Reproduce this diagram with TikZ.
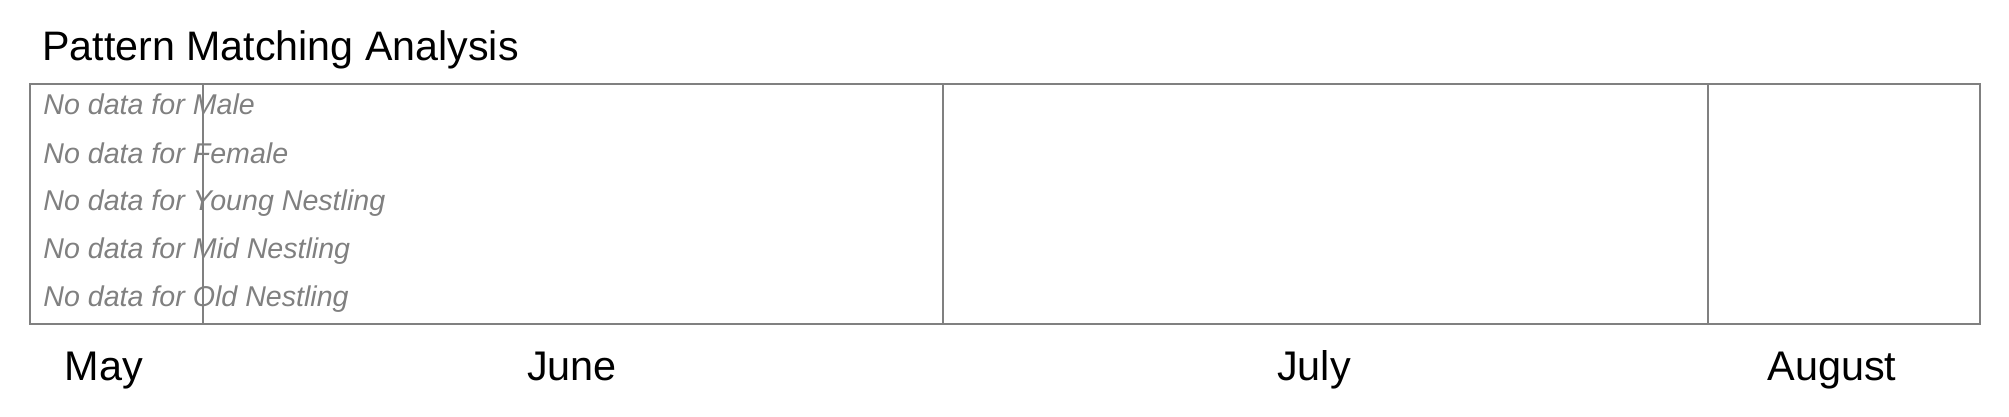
\documentclass[tikz,border=0pt]{standalone}
\usepackage{fontspec}
\setmainfont{Liberation Sans}
\definecolor{gridgray}{HTML}{808080}

\begin{document}
\begin{tikzpicture}[x=0.5pt,y=-0.5pt,
    nodata/.style={anchor=base west,inner sep=0pt,text=gridgray,
	font=\fontsize{14.3}{16}\selectfont\itshape},
    monthlabel/.style={anchor=base,inner sep=0pt,
	font=\fontsize{20.7}{24}\selectfont}]
    \useasboundingbox (0,0) rectangle (2009,417);
    \path (42,61) node [anchor=base west,inner sep=0pt,
	font=\fontsize{20.6}{24}\selectfont] (title) {Pattern Matching Analysis};
    \path (43,115) node [nodata] (male) {No data for Male};
    \path (43,163) node [nodata] (female) {No data for Female};
    \path (43,211) node [nodata] (young) {No data for Young Nestling};
    \path (43,258) node [nodata] (mid) {No data for Mid Nestling};
    \path (43,306) node [nodata] (old) {No data for Old Nestling};
    \draw [gridgray,line width=1.1pt] (30,84) rectangle (1980,324);
    \draw [gridgray,line width=1.1pt] (203,84) -- (203,324);
    \draw [gridgray,line width=1.1pt] (943,84) -- (943,324);
    \draw [gridgray,line width=1.1pt] (1708,84) -- (1708,324);
    \path (104,380) node [monthlabel] (may) {May};
    \path (572,380) node [monthlabel] (june) {June};
    \path (1314,380) node [monthlabel] (july) {July};
    \path (1832,380) node [monthlabel] (august) {August};
\end{tikzpicture}
\end{document}
